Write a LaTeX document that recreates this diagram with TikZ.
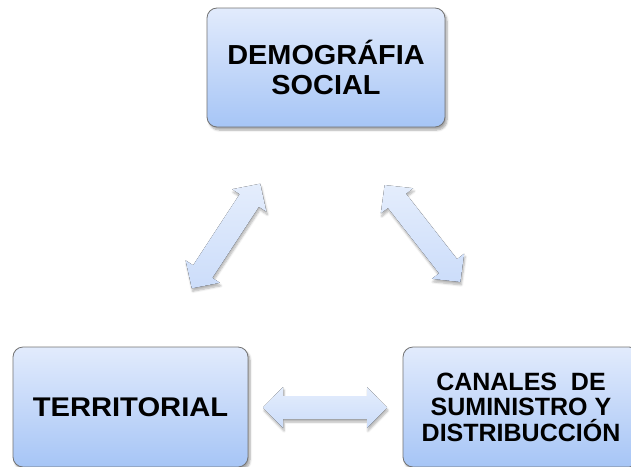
\documentclass[tikz,border=0pt]{standalone}
\usepackage{fontspec}
\setmainfont{Liberation Sans}
\newfontfamily\widefontA[FakeStretch=1.05]{Liberation Sans}
\newfontfamily\widefontB[FakeStretch=1.08]{Liberation Sans}
\usetikzlibrary{shadows.blur}
\definecolor{boxtop}{RGB}{226,235,252}
\definecolor{boxbot}{RGB}{166,197,246}
\definecolor{boxline}{RGB}{115,115,115}
\definecolor{arrtop}{RGB}{228,237,252}
\definecolor{arrbot}{RGB}{204,221,250}
\tikzset{
  box/.style={draw=boxline, line width=0.8pt, rounded corners=10pt,
    top color=boxtop, bottom color=boxbot, align=center,
    inner sep=0pt, text=black,
    blur shadow={shadow xshift=2pt, shadow yshift=-3pt, shadow opacity=35, shadow blur steps=6}},
  arrowfill/.style={top color=arrtop, bottom color=arrbot, draw=none,
    blur shadow={shadow xshift=1pt, shadow yshift=-3pt, shadow opacity=30, shadow blur steps=6}}
}
\newcommand{\dblarr}[4]{% name, center, angle, length
  \begin{scope}[shift={#2}, rotate=#3]
    \coordinate (#1) at (0,0);
    \pgfmathsetmacro{\La}{#4/2}
    \pgfmathsetmacro{\Lb}{#4/2-20}
    \fill[arrowfill] (-\La,0) -- (-\Lb,20.5) -- (-\Lb,11.5) -- (\Lb,11.5) -- (\Lb,20.5)
      -- (\La,0) -- (\Lb,-20.5) -- (\Lb,-11.5) -- (-\Lb,-11.5) -- (-\Lb,-20.5) -- cycle;
  \end{scope}}
\begin{document}
\begin{tikzpicture}[x=1pt,y=-1pt]
\useasboundingbox (0,0) rectangle (631,466);
\node[box, minimum width=238pt, minimum height=119pt,
  font=\widefontA\bfseries\fontsize{27.5}{30}\selectfont] (demo) at (326,67.5) {DEMOGRÁFIA\\SOCIAL};
\node[box, minimum width=235pt, minimum height=120pt,
  font=\widefontB\bfseries\fontsize{27}{30}\selectfont] (terr) at (130.5,407) {TERRITORIAL};
\node[box, minimum width=236pt, minimum height=120pt,
  font=\bfseries\fontsize{25}{25.5}\selectfont] (canal) at (521,407) {CANALES\ \ DE\\SUMINISTRO Y\\DISTRIBUCCIÓN};
\dblarr{arrL}{(226,236)}{56.8}{125}
\dblarr{arrR}{(422.5,233.5)}{-52}{123}
\dblarr{arrB}{(325,407.5)}{0}{124}
\end{tikzpicture}
\end{document}
